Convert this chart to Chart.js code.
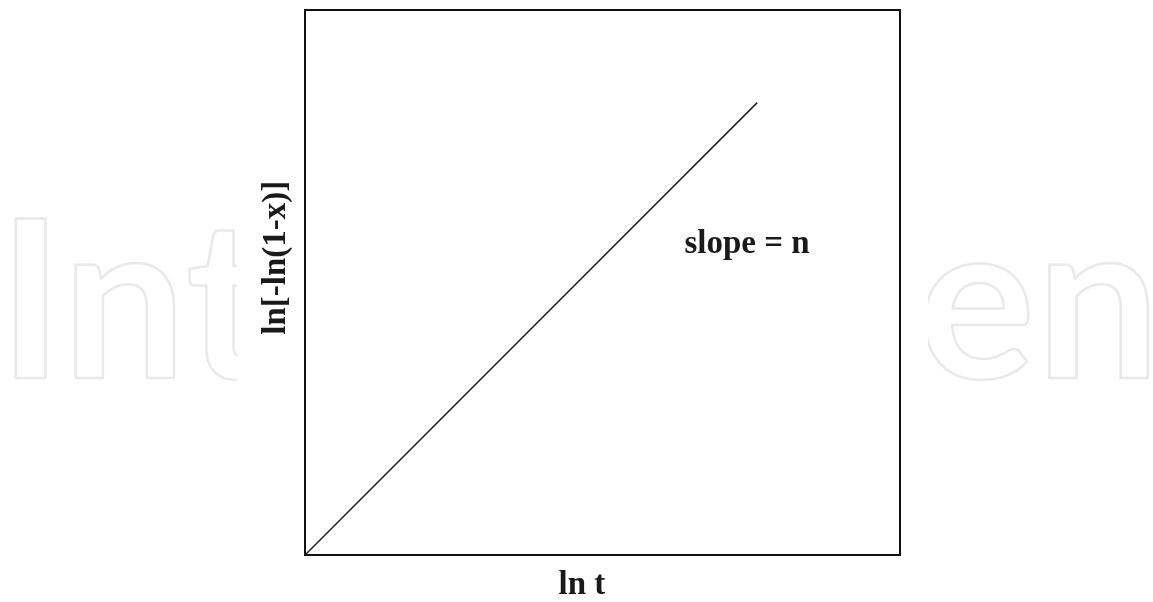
<!DOCTYPE html>
<html>
<head>
<meta charset="utf-8">
<script src="https://cdn.jsdelivr.net/npm/chart.js@4"></script>
<style>
  html, body { margin: 0; padding: 0; background: #fff; }
  #wrap { width: 1153px; height: 602px; }
</style>
</head>
<body>
<div id="wrap"><canvas id="avrami"></canvas></div>
<script>
// Avrami plot: ln[-ln(1-x)] against ln t, straight line of slope n
const lnT = [0, 0.76];
const lnLnX = [0, 0.83];
// padded with spaces so the titles sit off-centre as in the original
const xTitle = 'ln t     ';
const yTitle = '      ln[-ln(1-x)]';
const slopeText = 'slope = n';
const slopeAt = { x: 0.743, y: 0.57 };
const watermark = 'IntechOpen';

const serif = '"Liberation Serif", "DejaVu Serif", serif';

// background watermark, partly hidden behind the white figure
const backdrop = {
    id: 'backdrop',
    beforeDraw(chart) {
        const ctx = chart.ctx;
        ctx.save();
        ctx.fillStyle = '#fff';
        ctx.fillRect(0, 0, chart.width, chart.height);
        ctx.font = 'bold 220px Lato, sans-serif';
        ctx.letterSpacing = '0px';
        const m = ctx.measureText(watermark);
        const ink = m.actualBoundingBoxLeft + m.actualBoundingBoxRight;
        ctx.letterSpacing = ((1133 - ink) / (watermark.length - 1)) + 'px';
        ctx.textBaseline = 'alphabetic';
        ctx.strokeStyle = '#e9e9e9';
        ctx.lineWidth = 2.5;
        ctx.lineJoin = 'round';
        ctx.strokeText(watermark, 15 + m.actualBoundingBoxLeft, 378);
        ctx.fillStyle = '#fff';
        ctx.fillRect(237, 0, 928 - 237, chart.height);
        ctx.restore();
    },
    afterDraw(chart) {
        const { ctx, chartArea: a, scales } = chart;
        ctx.save();
        ctx.strokeStyle = '#111';
        ctx.lineWidth = 2;
        ctx.strokeRect(a.left, a.top, a.right - a.left, a.bottom - a.top);
        ctx.fillStyle = '#1a1a1a';
        ctx.font = 'bold 33px ' + serif;
        ctx.textAlign = 'center';
        ctx.textBaseline = 'middle';
        ctx.fillText(slopeText, scales.x.getPixelForValue(slopeAt.x), scales.y.getPixelForValue(slopeAt.y));
        ctx.restore();
    }
};

new Chart(document.getElementById('avrami'), {
    type: 'line',
    data: {
        labels: lnT,
        datasets: [{
            data: lnT.map((t, i) => ({ x: t, y: lnLnX[i] })),
            borderColor: '#222',
            borderWidth: 1.5,
            pointRadius: 0,
            tension: 0
        }]
    },
    options: {
        responsive: true,
        maintainAspectRatio: false,
        animation: false,
        layout: { padding: { left: 259.5, top: 10, right: 253, bottom: 0 } },
        plugins: { legend: { display: false }, tooltip: { enabled: false } },
        scales: {
            x: {
                type: 'linear',
                min: 0,
                max: 1,
                ticks: { display: false },
                grid: { display: false, drawTicks: false },
                border: { display: false },
                title: {
                    display: true,
                    text: xTitle,
                    color: '#1a1a1a',
                    font: { family: serif, size: 33, weight: 'bold', lineHeight: 1 },
                    padding: { top: 14, bottom: 0 }
                }
            },
            y: {
                type: 'linear',
                min: 0,
                max: 1,
                ticks: { display: false },
                grid: { display: false, drawTicks: false },
                border: { display: false },
                title: {
                    display: true,
                    text: yTitle,
                    color: '#1a1a1a',
                    font: { family: serif, size: 33, weight: 'bold', lineHeight: 1 },
                    padding: { top: 0, bottom: 12.5 }
                }
            }
        }
    },
    plugins: [backdrop]
});
</script>
</body>
</html>
